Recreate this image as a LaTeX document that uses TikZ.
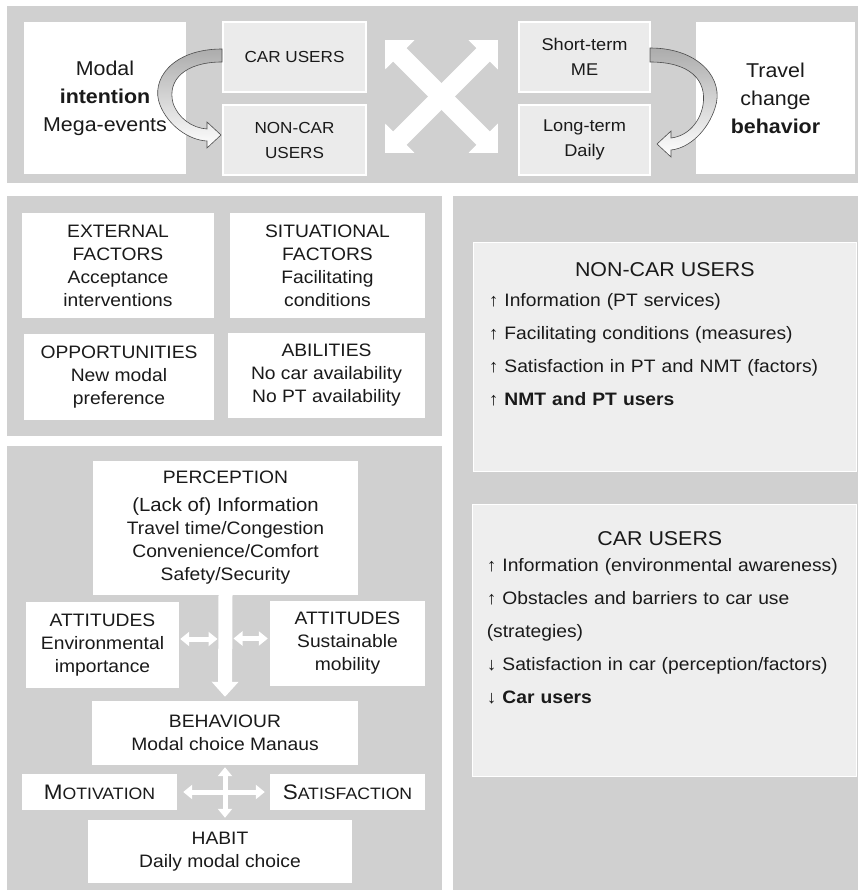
\documentclass[tikz,border=0pt]{standalone}
\usepackage{xcolor}
\usepackage{fontspec}
\setmainfont{Liberation Sans}[FakeStretch=1.07]
\usepackage{tikz}
\usetikzlibrary{arrows.meta,positioning}
\definecolor{panelgray}{HTML}{D0D0D0}
\definecolor{boxgray}{HTML}{EBEBEB}
\definecolor{listgray}{HTML}{EEEEEE}
\definecolor{ink}{HTML}{1A1A1A}

\begin{document}
\begin{tikzpicture}[x=1pt , y=-1pt , text=ink , font=\fontsize{18}{23}\selectfont ,
   whitebox/.style={rectangle , fill=white , align=center , inner sep=0pt} ,
   lightbox/.style={rectangle , fill=boxgray , draw=white , line width=1.2pt , align=center , inner sep=0pt} ,
   listbox/.style={rectangle , fill=listgray , draw=white , line width=0.8pt} ,
   listtext/.style={text width=352pt , align=left , inner sep=0pt , font=\fontsize{18}{33}\selectfont} ,
   bigfont/.style={font=\fontsize{20}{28}\selectfont} ,
   midfont/.style={font=\fontsize{17}{25}\selectfont} ,
   xarrow/.style={white , line width=19pt , >={Triangle[width=40pt , length=21pt]} , <->} ,
   downarrow/.style={white , line width=14pt , -{Triangle[width=26pt , length=15pt]}} ,
   thinarrow/.style={white , line width=5pt , >={Triangle[width=14pt , length=9pt]} , <->} ,
   bendarrow/.style={draw=gray!60!black , line width=0.6pt , top color=gray!65 , bottom color=white}]
   \useasboundingbox (0 , 0) rectangle (858 , 890);
   \fill [panelgray] (7 , 6) rectangle (858 , 183);
   \fill [panelgray] (7 , 196) rectangle (442 , 436);
   \fill [panelgray] (7 , 446) rectangle (442 , 890);
   \fill [panelgray] (453 , 196) rectangle (858 , 890);

   \node [whitebox , bigfont , minimum width=162pt , minimum height=152pt] (modal) at (105 , 98) {Modal\\\textbf{intention}\\Mega-events};
   \node [lightbox , font=\fontsize{16}{25}\selectfont , minimum width=143pt , minimum height=70pt] (car) at (294.5 , 57) {CAR USERS};
   \node [lightbox , font=\fontsize{16}{25}\selectfont , minimum width=143pt , minimum height=70pt] (noncar) at (294.5 , 140) {NON-CAR\\USERS};
   \node [lightbox , midfont , minimum width=131pt , minimum height=70pt] (shortt) at (584.5 , 57) {Short-term\\ME};
   \node [lightbox , midfont , minimum width=131pt , minimum height=70pt] (longt) at (584.5 , 140) {Long-term\\Daily};
   \node [whitebox , bigfont , minimum width=159pt , minimum height=152pt] (travel) at (775.5 , 98) {Travel\\change\\\textbf{behavior}};

   \draw [bendarrow] (222 , 49) .. controls (172 , 49) and (150 , 80) .. (160 , 105)
      .. controls (168 , 125) and (188 , 140) .. (207 , 141) -- (207 , 148) -- (221 , 135)
      -- (207 , 122) -- (207 , 129) .. controls (192 , 128) and (178 , 118) .. (173 , 103)
      .. controls (167 , 80) and (185 , 62) .. (222 , 62) -- cycle;
   \draw [bendarrow] (650 , 48) .. controls (700 , 48) and (725 , 80) .. (715 , 108)
      .. controls (708 , 130) and (690 , 148) .. (671 , 150) -- (671 , 157) -- (657 , 144)
      -- (671 , 131) -- (671 , 138) .. controls (688 , 136) and (700 , 122) .. (703 , 105)
      .. controls (707 , 80) and (690 , 62) .. (650 , 62) -- cycle;

   \coordinate (xnw) at (385 , 40);
   \coordinate (xne) at (498 , 40);
   \coordinate (xsw) at (385 , 153);
   \coordinate (xse) at (498 , 153);
   \draw [xarrow] (xnw) -- (xse);
   \draw [xarrow] (xne) -- (xsw);

   \node [whitebox , minimum width=192pt , minimum height=105pt] (ext) at (118 , 265.5) {EXTERNAL\\FACTORS\\Acceptance\\interventions};
   \node [whitebox , minimum width=195pt , minimum height=105pt] (sit) at (327.5 , 265.5) {SITUATIONAL\\FACTORS\\Facilitating\\conditions};
   \node [whitebox , minimum width=190pt , minimum height=86pt] (opp) at (119 , 377) {OPPORTUNITIES\\New modal\\preference};
   \node [whitebox , minimum width=197pt , minimum height=85pt] (abil) at (326.5 , 375.5) {ABILITIES\\No car availability\\No PT availability};

   \node [whitebox , minimum width=265pt , minimum height=134pt] (perc) at (225.5 , 528) {PERCEPTION\\[5pt]{\fontsize{19}{23}\selectfont (Lack of) Information}\\Travel time/Congestion\\Convenience/Comfort\\Safety/Security};
   \node [whitebox , minimum width=153pt , minimum height=86pt] (attl) at (102.5 , 645) {ATTITUDES\\Environmental\\importance};
   \node [whitebox , minimum width=155pt , minimum height=85pt] (attr) at (347.5 , 643.5) {ATTITUDES\\Sustainable\\mobility};
   \node [whitebox , minimum width=266pt , minimum height=64pt] (behav) at (225 , 733) {BEHAVIOUR\\Modal choice Manaus};
   \node [whitebox , minimum width=155pt , minimum height=36pt] (motiv) at (99.5 , 792) {{\fontsize{21}{21}\selectfont M}{\fontsize{16.5}{20}\selectfont OTIVATION}};
   \node [whitebox , minimum width=155pt , minimum height=36pt] (satis) at (347.5 , 792) {{\fontsize{21}{21}\selectfont S}{\fontsize{16.5}{20}\selectfont ATISFACTION}};
   \node [whitebox , minimum width=264pt , minimum height=63pt] (habit) at (220 , 851.5) {HABIT\\Daily modal choice};

   \draw [downarrow , shorten >=4pt] (perc.south) -- (behav.north);
   \draw [thinarrow , shorten <=1pt , shorten >=8pt] ([yshift=6pt]attl.east) -- ([yshift=6pt]attl.east -| perc.south);
   \draw [thinarrow , shorten <=2pt , shorten >=8pt] ([yshift=5pt]attr.west) -- ([yshift=5pt]attr.west -| perc.south);
   \draw [thinarrow , shorten <=2pt , shorten >=2pt] (behav.south) -- (behav.south |- habit.north);
   \draw [thinarrow , shorten <=6pt , shorten >=5pt] (motiv.east) -- (satis.west);

   \node [listbox , minimum width=383pt , minimum height=229pt] (noncarb) at (664.5 , 356.5) {};
   \node [listtext , below right=21pt and 16pt of noncarb.north west] (noncart) {\makebox[352pt]{\fontsize{20}{24}\selectfont NON-CAR USERS}\\[-3pt]
      ↑ Information (PT services)\\
      ↑ Facilitating conditions (measures)\\
      ↑ Satisfaction in PT and NMT (factors)\\
      ↑ \textbf{NMT and PT users}};
   \node [listbox , minimum width=384pt , minimum height=272pt] (carb) at (664 , 640) {};
   \node [listtext , below right=28pt and 15pt of carb.north west] (cart) {\makebox[346pt]{\fontsize{20}{24}\selectfont CAR USERS}\\[-7pt]
      ↑ Information (environmental awareness)\\
      ↑ Obstacles and barriers to car use\\
      (strategies)\\
      ↓ Satisfaction in car (perception/factors)\\
      ↓ \textbf{Car users}};
\end{tikzpicture}
\end{document}
